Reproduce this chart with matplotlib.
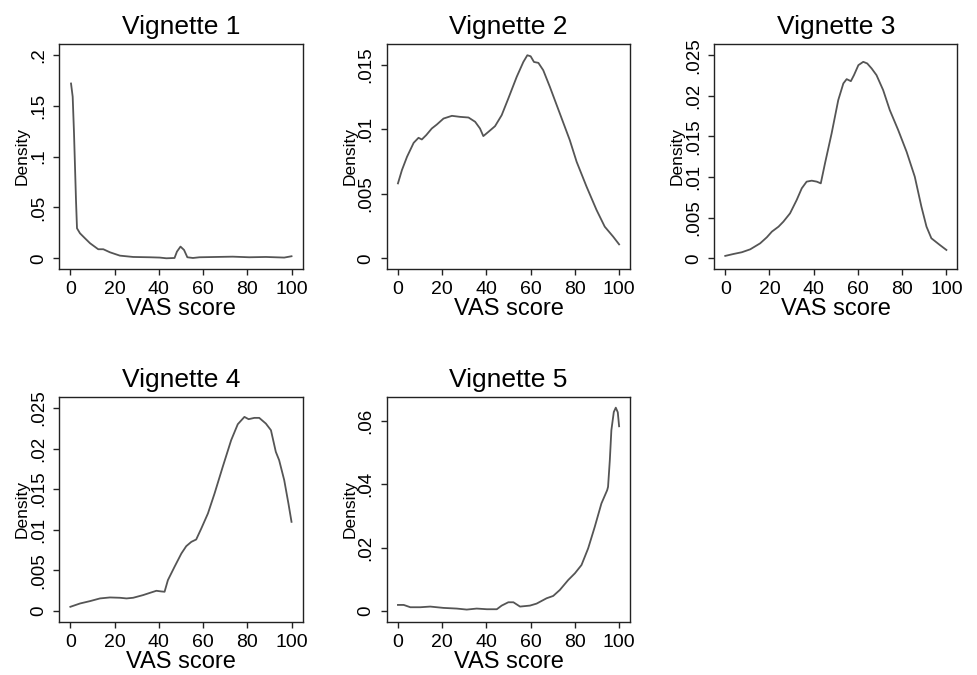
import matplotlib
matplotlib.use("Agg")
import matplotlib.pyplot as plt

plt.rcParams['font.family'] = ['Liberation Sans', 'DejaVu Sans']

# VAS score / kernel density values
v1_x = [0.3, 1.05, 1.65, 2.55, 3.0, 4.35, 6.6, 8.9, 12.6, 14.9, 17.9, 22.4, 28.4, 35.9, 40.4, 43.4,
        47.1, 48.2, 49.8, 51.4, 52.9, 55.4, 58.4, 65.9, 73.4, 80.9, 88.4, 96.7, 100]
v1_y = [0.172, 0.159, 0.123, 0.057, 0.0295, 0.0246, 0.0197, 0.0148, 0.0089, 0.0089, 0.0059, 0.0026,
        0.0013, 0.001, 0.0007, 0.0, 0.0003, 0.0066, 0.0115, 0.0082, 0.001, 0.0003, 0.001, 0.0013,
        0.0016, 0.001, 0.0013, 0.0007, 0.002]

v2_x = [0, 1.8, 4.1, 7.1, 9.3, 10.8, 12.8, 15.3, 17.6, 20.6, 24.4, 28.1, 31.9, 34.9, 37.1, 38.6,
        40.9, 43.9, 46.9, 49.9, 53.7, 56.7, 58.5, 60, 61.5, 63.5, 65.7, 68.7, 73.2, 77.7, 80.8,
        85.3, 89.8, 93.5, 97.3, 100]
v2_y = [0.0058, 0.00683, 0.00786, 0.00894, 0.00933, 0.0092, 0.00954, 0.01005, 0.01036, 0.01082,
        0.01103, 0.01095, 0.0109, 0.01057, 0.01005, 0.00946, 0.00979, 0.01023, 0.01108, 0.01237,
        0.01405, 0.0152, 0.01572, 0.01564, 0.0152, 0.01513, 0.01456, 0.01327, 0.01121, 0.00915,
        0.00747, 0.00554, 0.00374, 0.00245, 0.00168, 0.00108]

v3_x = [0, 3.8, 7.5, 11.3, 15.8, 18.8, 21.1, 24.1, 26.3, 29.3, 32.3, 34.6, 36.8, 39.1, 41.4, 43.2,
        45.1, 48.1, 51.1, 53.4, 54.9, 56.8, 58.2, 60.2, 62.4, 64.2, 66.2, 68.4, 71.4, 74.4, 78.2,
        82, 85.7, 88.7, 91, 93.2, 97, 100]
v3_y = [0.00029, 0.00053, 0.00074, 0.0011, 0.00184, 0.00258, 0.00328, 0.00389, 0.00451, 0.00553,
        0.00717, 0.00861, 0.00943, 0.00955, 0.00943, 0.00922, 0.01168, 0.01537, 0.01947, 0.02152,
        0.02205, 0.0218, 0.02254, 0.02377, 0.02418, 0.02398, 0.02336, 0.02254, 0.0207, 0.01824,
        0.01578, 0.01311, 0.01004, 0.00635, 0.00389, 0.00246, 0.00164, 0.00102]

v4_x = [0, 4.4, 8.9, 13.4, 17.9, 22.4, 25.4, 28.4, 32.9, 36.6, 38.9, 41.1, 42.6, 44.1, 47.1, 50.2,
        52.4, 54.7, 56.9, 59.2, 62.2, 65.2, 68.9, 72.7, 75.7, 78.7, 80.6, 83.2, 85.4, 88.4, 90.7,
        92.9, 94.4, 96.7, 98.6, 100]
v4_y = [0.00053, 0.00094, 0.00123, 0.00156, 0.00168, 0.00164, 0.00156, 0.00164, 0.00197, 0.0023,
        0.0025, 0.00242, 0.00238, 0.00381, 0.00545, 0.00709, 0.00799, 0.00852, 0.00881, 0.01016,
        0.01201, 0.01447, 0.01775, 0.02102, 0.02299, 0.02389, 0.02361, 0.02377, 0.02377, 0.02307,
        0.02225, 0.01959, 0.01857, 0.01611, 0.01324, 0.01098]

v5_x = [0, 2.6, 5.6, 10.1, 14.6, 20.6, 26.6, 31.1, 35.6, 40.2, 44.7, 46.9, 49.9, 52.2, 55.2, 59.7,
        62.7, 67.2, 70.2, 73.2, 77, 80, 83, 86, 89, 92, 94.6, 95, 95.8, 96.5, 97.6, 98.5, 99.4, 100]
v5_y = [0.00189, 0.00189, 0.00116, 0.00116, 0.00137, 0.00095, 0.00074, 0.00042, 0.00074, 0.00053,
        0.00053, 0.00168, 0.00273, 0.00273, 0.00137, 0.00168, 0.00231, 0.00399, 0.00473, 0.00662,
        0.00977, 0.01187, 0.0145, 0.01975, 0.02658, 0.03394, 0.03814, 0.0392, 0.0476, 0.05706,
        0.06283, 0.0642, 0.06273, 0.05832]

titles = ["Vignette 1", "Vignette 2", "Vignette 3", "Vignette 4", "Vignette 5"]
xticks = [0, 20, 40, 60, 80, 100]
yticks = [
    [0, 0.05, 0.1, 0.15, 0.2],
    [0, 0.005, 0.01, 0.015],
    [0, 0.005, 0.01, 0.015, 0.02, 0.025],
    [0, 0.005, 0.01, 0.015, 0.02, 0.025],
    [0, 0.02, 0.04, 0.06],
]
ylabels = [
    ["0", ".05", ".1", ".15", ".2"],
    ["0", ".005", ".01", ".015"],
    ["0", ".005", ".01", ".015", ".02", ".025"],
    ["0", ".005", ".01", ".015", ".02", ".025"],
    ["0", ".02", ".04", ".06"],
]
xs = [v1_x, v2_x, v3_x, v4_x, v5_x]
ys = [v1_y, v2_y, v3_y, v4_y, v5_y]

#region layout
ylims = [(-0.0102, 0.211), (-0.0008, 0.0166), (-0.00128, 0.02639), (-0.0013, 0.02635), (-0.0034, 0.0676)]
lefts = [0.0607, 0.396, 0.731]
bottoms = [0.602, 0.079]
w, h = 0.249, 0.333
#endregion

fig = plt.figure(figsize=(9.77, 6.75), dpi=100)
for k in range(5):
    r, c = divmod(k, 3)
    ax = fig.add_axes([lefts[c], bottoms[r], w, h])
    ax.plot(xs[k], ys[k], color='#555555', lw=1.3)
    ax.set_xlim(-5, 105)
    ax.set_ylim(*ylims[k])
    ax.set_xticks(xticks)
    ax.set_xticklabels([str(t) for t in xticks], fontsize=14)
    ax.set_yticks(yticks[k])
    ax.set_yticklabels(ylabels[k], fontsize=13.5, rotation=90, va='center')
    ax.tick_params(direction='out', length=4.3, width=1.0, color='#222222')
    ax.tick_params(axis='x', pad=4.5)
    ax.tick_params(axis='y', pad=4.5)
    for s in ax.spines.values():
        s.set_color('#222222')
        s.set_linewidth(1.0)
    ax.set_title(titles[k], fontsize=19, pad=7)
    ax.set_xlabel("VAS score", fontsize=17, labelpad=0)
    ax.set_ylabel("Density", fontsize=12.5, labelpad=0)

plt.savefig("out.png", dpi=100)
